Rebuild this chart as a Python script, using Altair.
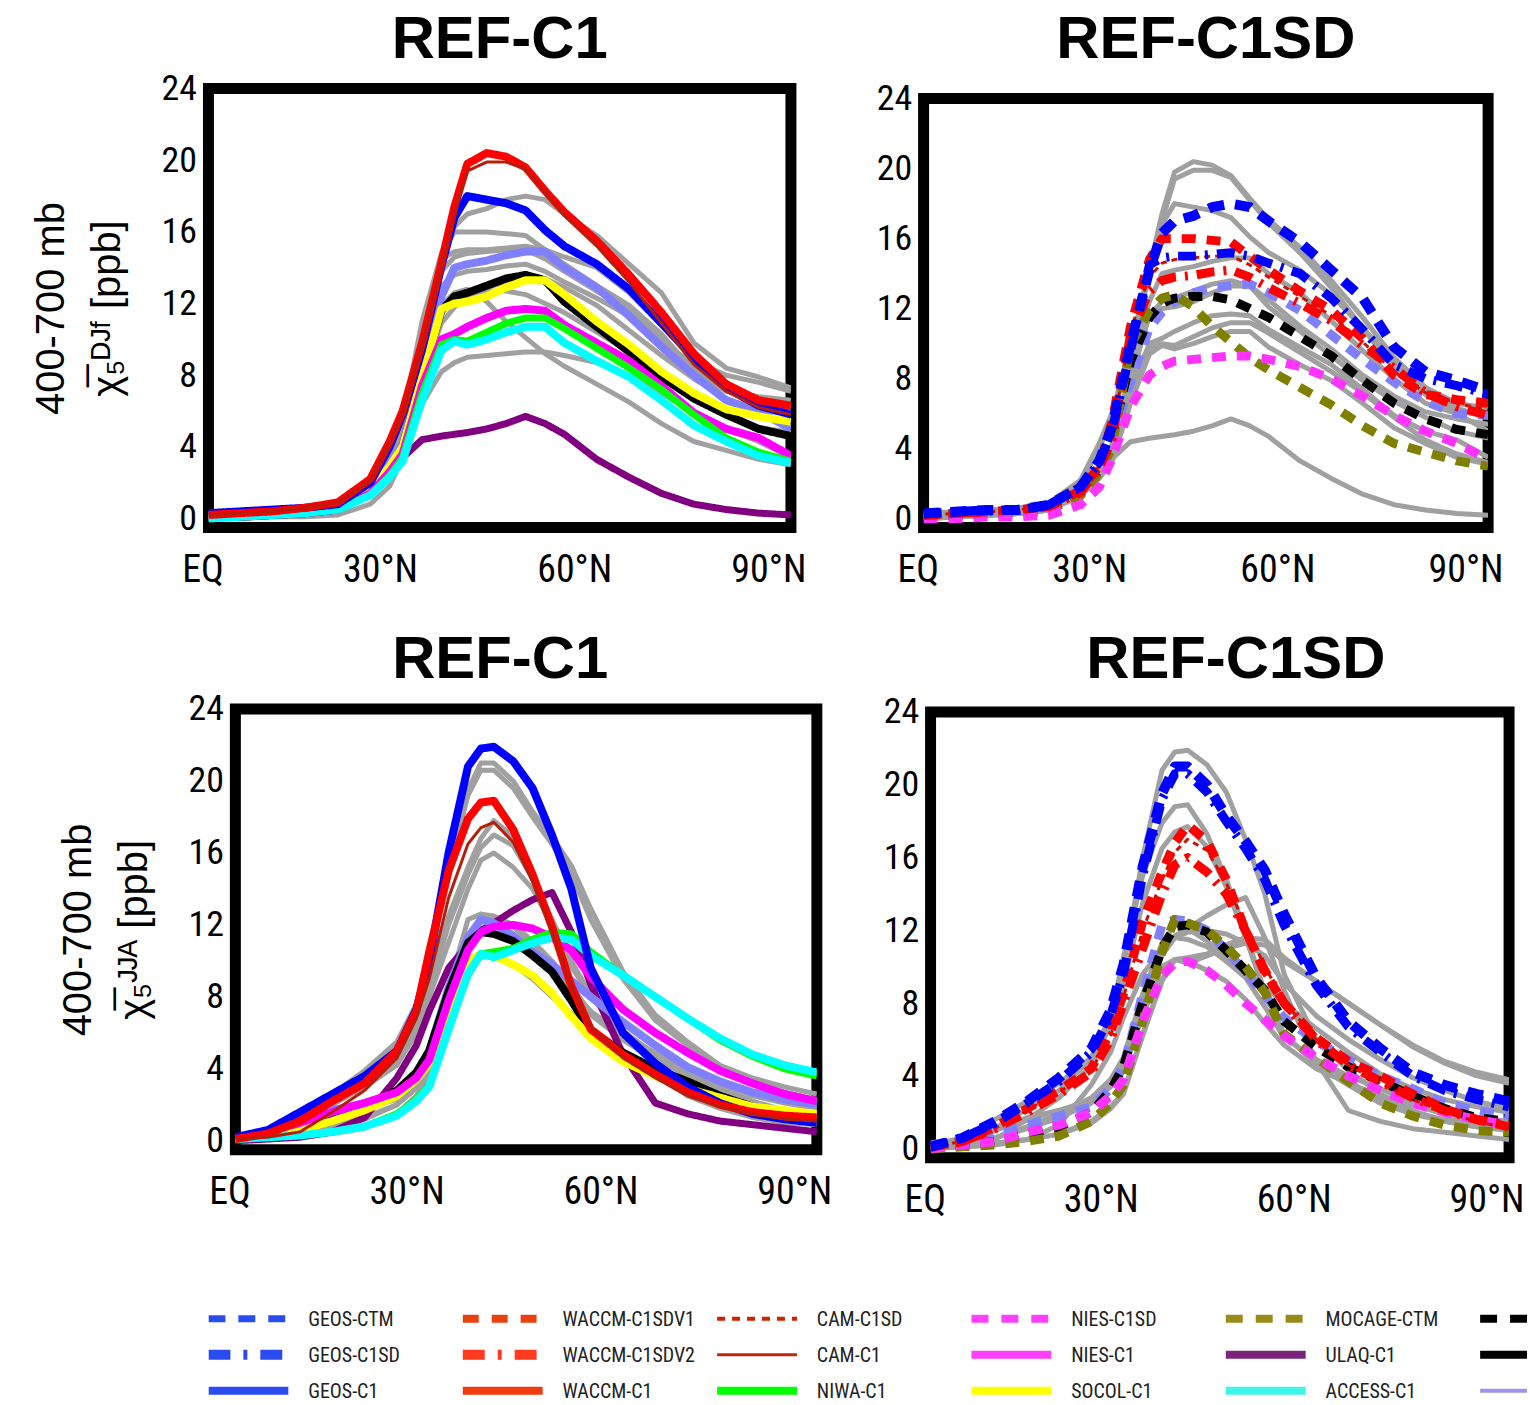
import altair as alt
import pandas as pd

# ---------------------------------------------------------------- latitude grid
LAT = [0, 5, 10, 15, 20, 25, 28, 30, 33, 36, 38, 40, 43, 46, 49, 52, 55, 60, 65, 70, 75, 80, 85, 90]

# ---------------------------------------------------------------- DJF, free-running (C1) models
DJF_WACCM_C1 = [0.2, 0.3, 0.4, 0.6, 0.9, 2.2, 4.3, 6.0, 9.8, 14.3, 17.4, 19.8, 20.4, 20.2, 19.6, 18.3, 17.1, 15.5, 13.6, 11.5, 9.2, 7.5, 6.6, 6.3]
DJF_CAM_C1 = [0.2, 0.3, 0.4, 0.6, 0.9, 2.1, 4.2, 5.9, 9.6, 14.0, 17.0, 19.4, 19.9, 19.9, 19.5, 18.2, 16.9, 15.2, 13.2, 10.9, 8.6, 7.1, 6.2, 5.8]
DJF_GEOS_C1 = [0.3, 0.4, 0.5, 0.6, 0.8, 2.0, 4.0, 5.8, 9.4, 14.1, 16.8, 18.0, 17.8, 17.6, 17.2, 16.1, 15.2, 14.2, 12.8, 10.9, 9.0, 7.3, 6.3, 5.8]
DJF_EMAC_C1 = [0.1, 0.2, 0.3, 0.4, 0.6, 1.7, 3.0, 4.2, 8.4, 12.4, 14.0, 14.2, 14.4, 14.7, 14.9, 14.9, 14.0, 12.9, 11.3, 9.6, 8.0, 6.6, 6.0, 5.0]
DJF_SOCOL_C1 = [0.1, 0.2, 0.3, 0.4, 0.6, 1.6, 2.9, 4.0, 7.9, 11.7, 12.0, 12.1, 12.4, 12.9, 13.3, 13.3, 12.5, 11.0, 9.7, 8.2, 7.0, 6.1, 5.7, 5.4]
DJF_MRI_C1 = [0.1, 0.1, 0.2, 0.3, 0.5, 1.5, 2.8, 4.0, 8.0, 11.6, 12.4, 12.6, 13.0, 13.4, 13.6, 13.3, 12.1, 10.7, 9.3, 7.9, 6.7, 5.8, 5.0, 4.6]
DJF_NIES_C1 = [0.1, 0.1, 0.2, 0.3, 0.5, 1.4, 2.6, 3.6, 7.4, 10.0, 10.3, 10.7, 11.2, 11.6, 11.7, 11.6, 10.8, 9.8, 8.8, 7.4, 5.9, 5.0, 4.5, 3.5]
DJF_NIWA_C1 = [0.0, 0.1, 0.2, 0.3, 0.5, 1.3, 2.4, 3.4, 7.0, 9.7, 10.0, 9.9, 10.4, 10.9, 11.2, 11.2, 10.6, 9.5, 8.4, 7.2, 5.8, 4.5, 3.7, 3.2]
DJF_ACCESS_C1 = [0.0, 0.1, 0.2, 0.3, 0.5, 1.3, 2.3, 3.2, 6.6, 9.4, 9.9, 9.7, 10.0, 10.4, 10.7, 10.7, 9.8, 8.8, 7.9, 6.6, 5.2, 4.3, 3.5, 3.1]
DJF_ULAQ_C1 = [0.1, 0.1, 0.2, 0.3, 0.6, 1.5, 2.6, 3.4, 4.4, 4.6, 4.7, 4.8, 5.0, 5.3, 5.7, 5.3, 4.7, 3.3, 2.3, 1.4, 0.8, 0.5, 0.3, 0.2]

# ---------------------------------------------------------------- DJF, specified-dynamics / CTM models
DJF_GEOS_CTM = [0.3, 0.4, 0.5, 0.5, 0.8, 1.8, 3.3, 5.2, 10.0, 14.2, 16.3, 17.0, 17.3, 17.8, 18.0, 17.8, 17.0, 15.8, 14.2, 12.6, 9.8, 8.4, 7.9, 7.3]
DJF_GEOS_C1SD = [0.3, 0.4, 0.5, 0.5, 0.8, 1.8, 3.2, 5.0, 9.6, 14.5, 14.9, 15.0, 15.0, 15.1, 15.2, 15.0, 14.6, 14.0, 12.6, 10.8, 8.8, 8.0, 7.6, 7.1]
DJF_WACCM_C1SDV1 = [0.2, 0.3, 0.4, 0.5, 0.7, 1.6, 3.0, 5.5, 11.0, 14.8, 16.0, 16.0, 16.0, 15.9, 15.8, 15.0, 14.2, 13.0, 11.9, 10.3, 8.2, 7.1, 6.8, 6.6]
DJF_WACCM_C1SDV2 = [0.2, 0.3, 0.4, 0.5, 0.7, 1.5, 2.9, 4.5, 10.5, 13.0, 13.6, 13.8, 13.9, 14.1, 14.2, 13.8, 13.2, 12.3, 11.3, 9.9, 8.6, 7.2, 6.4, 5.9]
DJF_CAM_C1SD = [0.2, 0.3, 0.4, 0.5, 0.7, 1.6, 3.0, 4.8, 10.8, 13.8, 14.6, 14.8, 14.9, 15.0, 15.0, 14.5, 13.8, 12.7, 11.6, 10.1, 8.4, 7.2, 6.6, 6.2]
DJF_EMAC_C1SD = [0.2, 0.3, 0.3, 0.4, 0.6, 1.4, 2.7, 4.5, 7.8, 10.9, 11.8, 12.4, 12.9, 13.2, 13.3, 13.4, 12.9, 11.9, 10.5, 9.1, 7.8, 6.7, 6.0, 5.9]
DJF_MRI_C1SD = [0.1, 0.2, 0.3, 0.3, 0.5, 1.4, 2.8, 4.6, 9.0, 11.5, 12.3, 12.6, 12.7, 12.7, 12.5, 12.0, 11.5, 10.4, 9.3, 7.9, 6.6, 5.7, 5.1, 4.8]
DJF_MOCAGE_CTM = [0.1, 0.2, 0.3, 0.3, 0.5, 1.3, 2.6, 4.0, 9.9, 11.9, 12.6, 12.8, 12.1, 11.0, 10.1, 9.2, 8.5, 7.5, 6.5, 5.3, 4.3, 3.8, 3.3, 3.0]
DJF_NIES_C1SD = [0.0, 0.0, 0.1, 0.1, 0.2, 0.8, 1.8, 3.4, 6.4, 8.2, 8.7, 9.0, 9.1, 9.2, 9.3, 9.3, 9.1, 8.7, 8.0, 7.0, 5.9, 5.0, 4.3, 3.4]

# ---------------------------------------------------------------- JJA, free-running (C1) models
JJA_WACCM_C1 = [0.1, 0.4, 1.1, 2.2, 3.2, 5.0, 7.2, 10.5, 15.0, 17.9, 18.8, 18.9, 17.3, 14.8, 11.9, 8.6, 6.2, 4.8, 3.7, 2.7, 2.0, 1.6, 1.4, 1.3]
JJA_CAM_C1 = [0.1, 0.2, 0.5, 1.6, 2.8, 4.6, 6.8, 9.0, 13.5, 16.5, 17.4, 17.7, 16.6, 14.4, 11.6, 8.6, 6.3, 4.6, 3.5, 2.5, 1.9, 1.5, 1.2, 1.1]
JJA_GEOS_C1 = [0.2, 0.6, 1.6, 2.6, 3.6, 5.0, 7.3, 10.0, 16.0, 20.8, 21.8, 21.9, 21.1, 19.6, 17.0, 14.0, 9.6, 6.0, 4.3, 3.0, 2.1, 1.5, 1.2, 1.0]
JJA_EMAC_C1 = [0.2, 0.5, 1.0, 1.7, 2.1, 2.6, 3.6, 5.0, 8.5, 11.3, 12.3, 12.1, 11.4, 10.5, 9.8, 8.9, 8.0, 6.6, 5.3, 4.1, 3.3, 2.7, 2.3, 2.0]
JJA_SOCOL_C1 = [0.1, 0.3, 0.6, 1.1, 1.7, 2.5, 3.4, 4.3, 7.3, 10.0, 10.4, 10.3, 9.8, 9.2, 8.2, 6.9, 5.7, 4.4, 3.6, 2.9, 2.4, 1.9, 1.7, 1.5]
JJA_MRI_C1 = [0.1, 0.3, 0.6, 1.2, 1.9, 2.8, 3.8, 5.0, 8.3, 11.0, 11.6, 11.5, 11.1, 10.3, 9.4, 7.8, 6.1, 4.9, 4.0, 3.3, 2.5, 1.9, 1.5, 1.3]
JJA_NIES_C1 = [0.1, 0.5, 1.0, 1.6, 2.1, 2.7, 3.5, 4.5, 7.8, 10.6, 11.6, 11.9, 12.0, 11.8, 11.3, 10.6, 9.1, 7.3, 6.0, 4.9, 3.9, 3.2, 2.6, 2.2]
JJA_NIWA_C1 = [0.1, 0.2, 0.3, 0.5, 0.8, 1.5, 2.3, 3.1, 6.3, 9.2, 10.4, 10.5, 10.7, 11.2, 11.6, 11.5, 10.5, 9.2, 8.0, 6.8, 5.6, 4.7, 4.0, 3.6]
JJA_ACCESS_C1 = [0.1, 0.2, 0.3, 0.5, 0.8, 1.4, 2.2, 3.0, 6.2, 9.3, 10.4, 10.2, 10.6, 11.0, 11.3, 11.2, 10.3, 9.2, 8.0, 6.8, 5.7, 4.8, 4.2, 3.8]
JJA_ULAQ_C1 = [0.0, 0.1, 0.2, 0.5, 1.3, 3.5, 5.3, 7.2, 9.6, 10.9, 11.7, 12.1, 12.8, 13.4, 13.8, 11.6, 8.7, 4.8, 2.1, 1.5, 1.1, 0.9, 0.7, 0.5]

# ---------------------------------------------------------------- JJA, specified-dynamics / CTM models
JJA_GEOS_CTM = [0.1, 0.6, 1.5, 2.6, 3.9, 5.5, 7.6, 10.1, 15.5, 19.5, 21.0, 21.0, 20.0, 18.3, 16.9, 15.3, 12.9, 9.4, 7.0, 5.5, 4.2, 3.5, 3.0, 2.6]
JJA_GEOS_C1SD = [0.1, 0.6, 1.4, 2.5, 3.7, 5.3, 7.3, 9.6, 15.0, 19.2, 20.6, 20.6, 19.6, 18.0, 16.5, 14.8, 12.3, 9.0, 6.7, 5.3, 4.0, 3.2, 2.7, 2.3]
JJA_WACCM_C1SDV1 = [0.1, 0.4, 1.2, 2.2, 3.2, 4.4, 6.4, 8.5, 12.5, 15.2, 16.8, 17.8, 16.9, 14.8, 12.0, 9.7, 8.0, 6.1, 4.8, 4.0, 3.0, 2.2, 1.6, 1.2]
JJA_WACCM_C1SDV2 = [0.1, 0.4, 1.1, 2.0, 3.0, 4.2, 6.0, 8.0, 11.0, 14.0, 15.6, 16.0, 15.2, 14.0, 12.0, 9.8, 8.0, 6.0, 4.6, 3.7, 2.8, 2.1, 1.6, 1.3]
JJA_CAM_C1SD = [0.1, 0.4, 1.1, 2.1, 3.1, 4.3, 6.2, 8.3, 12.0, 14.8, 16.3, 17.0, 16.4, 14.6, 12.3, 10.0, 8.1, 6.0, 4.6, 3.6, 2.7, 2.0, 1.5, 1.1]
JJA_EMAC_C1SD = [0.2, 0.5, 0.8, 1.3, 1.8, 2.3, 3.3, 4.5, 8.5, 12.3, 12.6, 12.5, 12.0, 10.9, 9.7, 8.4, 7.2, 5.9, 4.9, 4.0, 3.3, 2.5, 2.1, 1.8]
JJA_MRI_C1SD = [0.1, 0.2, 0.4, 0.8, 1.2, 2.0, 3.2, 4.5, 8.0, 11.0, 12.2, 12.3, 11.9, 10.9, 9.8, 8.7, 7.0, 5.6, 4.5, 3.7, 2.9, 2.2, 1.7, 1.5]
JJA_MOCAGE_CTM = [0.0, 0.1, 0.2, 0.4, 0.7, 1.5, 2.5, 3.5, 7.0, 10.8, 12.6, 12.4, 12.0, 11.1, 10.0, 8.6, 6.3, 5.0, 3.7, 2.5, 1.8, 1.3, 1.0, 0.9]
JJA_NIES_C1SD = [0.0, 0.2, 0.4, 0.9, 1.3, 2.0, 2.9, 3.8, 7.0, 9.5, 10.2, 10.3, 9.8, 9.0, 8.0, 7.1, 6.2, 5.0, 4.0, 3.2, 2.5, 2.0, 1.6, 1.3]

# ---------------------------------------------------------------- model groups (drawing order: last drawn on top)
C1_ORDER = ["ULAQ-C1", "EMAC-C1", "MRI-C1", "SOCOL-C1", "NIES-C1", "NIWA-C1", "ACCESS-C1", "GEOS-C1", "WACCM-C1", "CAM-C1"]
SD_ORDER = ["EMAC-C1SD", "MRI-C1SD", "MOCAGE-CTM", "NIES-C1SD", "CAM-C1SD", "WACCM-C1SDV2", "WACCM-C1SDV1", "GEOS-C1SD", "GEOS-CTM"]

DJF = {
    "WACCM-C1": DJF_WACCM_C1, "CAM-C1": DJF_CAM_C1, "GEOS-C1": DJF_GEOS_C1, "EMAC-C1": DJF_EMAC_C1,
    "SOCOL-C1": DJF_SOCOL_C1, "MRI-C1": DJF_MRI_C1, "NIES-C1": DJF_NIES_C1, "NIWA-C1": DJF_NIWA_C1,
    "ACCESS-C1": DJF_ACCESS_C1, "ULAQ-C1": DJF_ULAQ_C1,
    "GEOS-CTM": DJF_GEOS_CTM, "GEOS-C1SD": DJF_GEOS_C1SD, "WACCM-C1SDV1": DJF_WACCM_C1SDV1,
    "WACCM-C1SDV2": DJF_WACCM_C1SDV2, "CAM-C1SD": DJF_CAM_C1SD, "EMAC-C1SD": DJF_EMAC_C1SD,
    "MRI-C1SD": DJF_MRI_C1SD, "MOCAGE-CTM": DJF_MOCAGE_CTM, "NIES-C1SD": DJF_NIES_C1SD,
}
JJA = {
    "WACCM-C1": JJA_WACCM_C1, "CAM-C1": JJA_CAM_C1, "GEOS-C1": JJA_GEOS_C1, "EMAC-C1": JJA_EMAC_C1,
    "SOCOL-C1": JJA_SOCOL_C1, "MRI-C1": JJA_MRI_C1, "NIES-C1": JJA_NIES_C1, "NIWA-C1": JJA_NIWA_C1,
    "ACCESS-C1": JJA_ACCESS_C1, "ULAQ-C1": JJA_ULAQ_C1,
    "GEOS-CTM": JJA_GEOS_CTM, "GEOS-C1SD": JJA_GEOS_C1SD, "WACCM-C1SDV1": JJA_WACCM_C1SDV1,
    "WACCM-C1SDV2": JJA_WACCM_C1SDV2, "CAM-C1SD": JJA_CAM_C1SD, "EMAC-C1SD": JJA_EMAC_C1SD,
    "MRI-C1SD": JJA_MRI_C1SD, "MOCAGE-CTM": JJA_MOCAGE_CTM, "NIES-C1SD": JJA_NIES_C1SD,
}

# ---------------------------------------------------------------- line styles in the panels
MODELS = ["GEOS-CTM", "GEOS-C1SD", "GEOS-C1", "WACCM-C1SDV1", "WACCM-C1SDV2", "WACCM-C1",
          "CAM-C1SD", "CAM-C1", "NIWA-C1", "NIES-C1SD", "NIES-C1", "SOCOL-C1",
          "MOCAGE-CTM", "ULAQ-C1", "ACCESS-C1", "MRI-C1SD", "MRI-C1", "EMAC-C1", "EMAC-C1SD"]
LINE_COLORS = ["#0000ff", "#0000ff", "#0000ff", "#ff0000", "#ff0000", "#ff0000",
               "#cc1100", "#b41e0a", "#00ff00", "#ff33ff", "#ff00ff", "#ffff00",
               "#808000", "#800080", "#00ffff", "#000000", "#000000", "#8080ff", "#8080ff"]
LINE_DASHES = [[16, 11], [18, 9, 3, 9], [1, 0], [14, 11], [18, 9, 3, 9], [1, 0],
               [6, 5], [1, 0], [1, 0], [14, 11], [1, 0], [1, 0],
               [14, 11], [1, 0], [1, 0], [14, 11], [1, 0], [1, 0], [14, 11]]
LINE_WIDTHS = [10, 9, 8, 9, 9, 8, 3, 3, 7, 9, 8, 8, 9, 7, 8, 9, 8, 8, 9]
GREY = "#a0a0a0"

# ---------------------------------------------------------------- legend
LEG_NAMES = ["GEOS-CTM", "GEOS-C1SD", "GEOS-C1", "WACCM-C1SDV1", "WACCM-C1SDV2", "WACCM-C1",
             "CAM-C1SD", "CAM-C1", "NIWA-C1", "NIES-C1SD", "NIES-C1", "SOCOL-C1",
             "MOCAGE-CTM", "ULAQ-C1", "ACCESS-C1", "MRI-C1SD", "MRI-C1", "EMAC-C1"]
# the labels of the last column are cut off at the right edge of the figure
LEG_LABELS = ["GEOS-CTM", "GEOS-C1SD", "GEOS-C1", "WACCM-C1SDV1", "WACCM-C1SDV2", "WACCM-C1",
              "CAM-C1SD", "CAM-C1", "NIWA-C1", "NIES-C1SD", "NIES-C1", "SOCOL-C1",
              "MOCAGE-CTM", "ULAQ-C1", "ACCESS-C1", "", "", ""]
LEG_COLORS = ["#2a4bef", "#2a4bef", "#2a4bef", "#e8400f", "#ff3a1f", "#f03a0f",
              "#cc2200", "#c0280a", "#00ff00", "#ff40ff", "#ff40ff", "#ffff00",
              "#9a8a1a", "#7a2478", "#3ff5e8", "#000000", "#000000", "#a090f0"]
LEG_DASHES = [[17, 13], [22, 13, 4, 13], [1, 0], [16, 13], [22, 13, 4, 13], [1, 0],
              [8, 7], [1, 0], [1, 0], [17, 13], [1, 0], [1, 0],
              [17, 13], [1, 0], [1, 0], [17, 13], [1, 0], [1, 0]]
LEG_WIDTHS = [7, 10, 8, 8, 10, 8, 4, 3, 8, 8, 8, 8, 8, 8, 8, 8, 8, 4]

Y_TICKS = [0, 4, 8, 12, 16, 20, 24]
X_TICKS = [0, 30, 60, 90]

NUM_FONT = "Roboto Condensed, Roboto, Liberation Sans, sans-serif"
TXT_FONT = "Liberation Sans, DejaVu Sans, sans-serif"

# ---------------------------------------------------------------- long table
rows = []
for season, table in (("DJF", DJF), ("JJA", JJA)):
    for model in C1_ORDER + SD_ORDER:
        for lat, v in zip(LAT, table[model]):
            rows.append({"season": season, "model": model, "lat": lat, "value": v})
df = pd.DataFrame(rows)


def panel(season, colored, grey, title, ytitle, w, h, tdx, toff):
    sub = df[df["season"] == season]
    x = alt.X("lat:Q", scale=alt.Scale(domain=[0, 90], nice=False, zero=False),
              axis=alt.Axis(values=X_TICKS, title=None, ticks=False, domain=False, grid=False,
                            labelExpr="datum.value == 0 ? 'EQ' : datum.value + '°N'",
                            labelFont=NUM_FONT, labelFontSize=38, labelColor="black",
                            labelAlign="right", labelOffset=15, labelPadding=24))
    yaxis = dict(values=Y_TICKS, ticks=False, domain=False, grid=False,
                 labelFont=NUM_FONT, labelFontSize=36, labelColor="black", labelPadding=12)
    if ytitle:
        yaxis.update(title=ytitle, titleFont=TXT_FONT, titleFontSize=40, titleFontWeight="normal",
                     titleColor="black", titleLineHeight=56, titlePadding=34)
    else:
        yaxis.update(title=None)
    y = alt.Y("value:Q", scale=alt.Scale(domain=[-0.5, 24], nice=False, zero=False),
              axis=alt.Axis(**yaxis))

    grey_data = sub[sub["model"].isin(grey)]
    col_data = pd.concat([sub[sub["model"] == m] for m in colored])

    grey_layer = alt.Chart(grey_data).mark_line(
        color=GREY, strokeWidth=5, clip=True, strokeJoin="round").encode(
        x=x, y=y, detail="model:N")
    col_layer = alt.Chart(col_data).mark_line(clip=True, strokeCap="butt", strokeJoin="round").encode(
        x=x, y=y,
        color=alt.Color("model:N", scale=alt.Scale(domain=MODELS, range=LINE_COLORS), legend=None),
        strokeDash=alt.StrokeDash("model:N", scale=alt.Scale(domain=MODELS, range=LINE_DASHES), legend=None),
        strokeWidth=alt.StrokeWidth("model:N", scale=alt.Scale(type="ordinal", domain=MODELS, range=LINE_WIDTHS),
                                    legend=None),
    )
    return alt.layer(grey_layer, col_layer).properties(
        width=w, height=h,
        title=alt.TitleParams(title, fontSize=60, font=TXT_FONT, fontWeight="bold",
                              color="black", anchor="middle", offset=toff, dx=tdx),
    )


TL = panel("DJF", C1_ORDER, SD_ORDER, "REF-C1", ["400-700 mb", "χ̅₅ᴰᴶᶠ  [ppb]"], 584, 440, 0, 0)
TR = panel("DJF", SD_ORDER, C1_ORDER, "REF-C1SD", None, 566, 430, 0, 10)
BL = panel("JJA", C1_ORDER, SD_ORDER, "REF-C1", ["400-700 mb", "χ̅₅ᴶᴶᴬ  [ppb]"], 583, 442, -26, 0)
BR = panel("JJA", SD_ORDER, C1_ORDER, "REF-C1SD", None, 580, 447, 16, 3)


def spacer(w, h):
    return alt.Chart(pd.DataFrame({"v": [0]})).mark_point(opacity=0).encode(
        x=alt.X("v:Q", axis=None), y=alt.Y("v:Q", axis=None)
    ).properties(width=w, height=h, view=alt.ViewBackground(strokeOpacity=0))


# ---------------------------------------------------------------- legend chart
leg = pd.DataFrame({
    "name": LEG_NAMES,
    "label": LEG_LABELS,
    "col": [i // 3 for i in range(len(LEG_NAMES))],
    "row": [i % 3 for i in range(len(LEG_NAMES))],
})
LEG_W = 1322
xs = alt.Scale(domain=[0, LEG_W / 255], nice=False, zero=False)
ys = alt.Scale(domain=[-0.4, 2.15], nice=False, zero=False, reverse=True)
leg_base = alt.Chart(leg).transform_calculate(x2="datum.col + 0.314", xt="datum.col + 0.392")
leg_lines = leg_base.mark_rule(strokeCap="butt", clip=True).encode(
    x=alt.X("col:Q", scale=xs, axis=None), x2="x2:Q",
    y=alt.Y("row:Q", scale=ys, axis=None),
    color=alt.Color("name:N", scale=alt.Scale(domain=LEG_NAMES, range=LEG_COLORS), legend=None),
    strokeDash=alt.StrokeDash("name:N", scale=alt.Scale(domain=LEG_NAMES, range=LEG_DASHES), legend=None),
    strokeWidth=alt.StrokeWidth("name:N", scale=alt.Scale(type="ordinal", domain=LEG_NAMES, range=LEG_WIDTHS),
                                legend=None),
)
leg_text = leg_base.transform_filter("datum.label != ''").mark_text(
    align="left", baseline="middle", font=NUM_FONT, fontSize=20, color="#222222", dy=1
).encode(
    x=alt.X("xt:Q", scale=xs, axis=None), y=alt.Y("row:Q", scale=ys, axis=None), text="label:N")
legend = alt.layer(leg_lines, leg_text).properties(
    width=LEG_W, height=92, view=alt.ViewBackground(strokeOpacity=0))

# the right-hand panels sit slightly lower than the left-hand ones in the original figure
TR_shift = alt.vconcat(spacer(7, 1), TR, spacing=9, bounds="flush")
BR_shift = alt.vconcat(spacer(7, 1), BR, spacing=2, bounds="flush")

row1 = alt.hconcat(TL, TR_shift, spacing=58)
row2 = alt.hconcat(spacer(7, 10), alt.hconcat(BL, BR_shift, spacing=39), spacing=20, bounds="flush")
panels = alt.vconcat(row1, row2, spacing=29)

chart = alt.vconcat(panels, legend, spacing=79).resolve_scale(
    color="independent", strokeDash="independent", strokeWidth="independent"
).properties(
    padding={"left": 25, "top": 2, "right": 0, "bottom": 0}
).configure_view(
    stroke="black", strokeWidth=11
)

chart.save("out.html", embed_options={"renderer": "svg", "actions": False})
